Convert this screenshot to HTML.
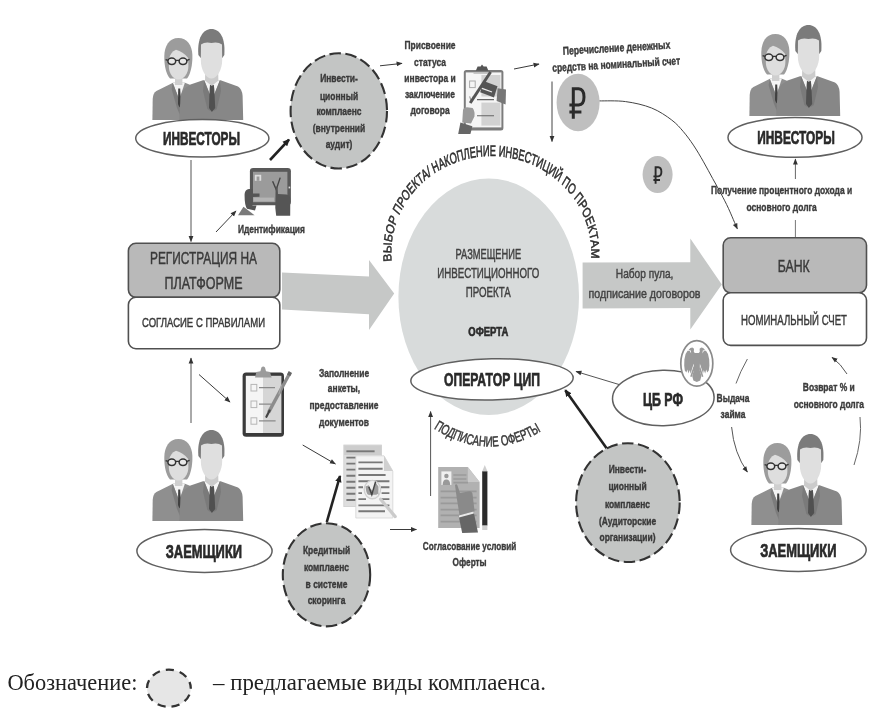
<!DOCTYPE html>
<html lang="ru">
<head>
<meta charset="utf-8">
<title>Схема</title>
<style>
html,body{margin:0;padding:0;background:#fff;}
body{width:885px;height:717px;overflow:hidden;font-family:"Liberation Sans",sans-serif;}
svg{display:block;filter:blur(0.65px);}
text{font-family:"Liberation Sans",sans-serif;}
.b{font-weight:bold;}
.serif{font-family:"Liberation Serif",serif;}
</style>
</head>
<body>
<svg width="885" height="717" viewBox="0 0 885 717">
<defs>
  <!-- people icon 92x92 -->
  <g id="people">
    <!-- woman -->
    <path d="M-0.6,92 L-0.3,71 Q0,65 3.4,63 L20,54.8 L32,54.8 L40,58 L40,92 Z" fill="#8f8f8f"/>
    <path d="M19.8,55 L31.8,55 L26.2,71.5 Z" fill="#f4f4f4"/>
    <path d="M19.8,55 L26.2,71.5 L27.4,88 L24,80 L18.6,61 Z" fill="#7c7c7c"/>
    <path d="M25.2,60.6 L27.2,60.6 L28,76 L26.4,79.5 L25,76 Z" fill="#404040"/>
    <path d="M25.4,10 C16,10 11.5,18 11.3,28 C11.2,38 13,46 17,50.6 L34,50.6 C37.6,46 39.6,37 39.4,27 C39,17 34,10 25.4,10 Z" fill="#9c9c9c"/>
    <rect x="22" y="46" width="7.4" height="11" fill="#cfcfcf"/>
    <path d="M16.2,31 Q17,24.4 23,21.8 Q30,23.5 35.2,30 L35.4,38 C35.4,45.5 31,51.4 25.6,51.4 C20,51.4 15.8,45.5 15.8,38 Z" fill="#dedede"/>
    <ellipse cx="18.8" cy="33.3" rx="3.9" ry="3.2" fill="#e8e8e8" stroke="#333" stroke-width="1.5"/>
    <ellipse cx="30" cy="33.3" rx="3.9" ry="3.2" fill="#e8e8e8" stroke="#333" stroke-width="1.5"/>
    <path d="M22.6,32.4 L26.2,32.4 M14.9,32.4 L12.6,31.6 M33.9,32.4 L36.6,31.4" stroke="#333" stroke-width="1.3" fill="none"/>
    <!-- man -->
    <path d="M26.2,92 L27.5,70 Q29,62 33,59.5 L37.5,56.5 L50,52.2 L67.6,52.2 L85,58.5 Q89,61 89.6,67.7 L90.2,92 Z" fill="#878787"/>
    <path d="M51.2,52.2 L66.9,52.2 L59.1,72 Z" fill="#f6f6f6"/>
    <path d="M51.2,52.2 L59.1,72 L57.4,83 L54.4,81 L50,63 Z" fill="#7a7a7a"/>
    <path d="M66.9,52.2 L59.1,72 L60.8,83 L63.8,81 L68,63 Z" fill="#7a7a7a"/>
    <path d="M57,57 L60.8,57 L61.3,61 L62.2,80 L58.9,84 L56,80 L56.6,61 Z" fill="#505050"/>
    <path d="M52.2,44 L65.2,44 L65.4,52.4 L58.8,58 L52,52.4 Z" fill="#cbcbcb"/>
    <path d="M45.4,27 C44,10 50,1 58.4,1 C67,1 72.6,10 71.3,27 L69.2,30 L47.8,30 Z" fill="#7b7b7b"/>
    <path d="M48,16.4 Q52,13.6 58.4,15 Q65,13.6 69,16.4 L69.2,32 C69.2,42 64,50.6 58.5,50.6 C53,50.6 47.8,42 47.8,32 Z" fill="#dfdfdf"/>
  </g>
  <marker id="ah" viewBox="0 0 10 10" refX="9" refY="5" markerWidth="6.5" markerHeight="6" orient="auto-start-reverse" markerUnits="userSpaceOnUse">
    <path d="M0,1 L10,5 L0,9 Z" fill="#333"/>
  </marker>
  <marker id="ahb" viewBox="0 0 10 10" refX="8.5" refY="5" markerWidth="7.2" markerHeight="7.2" orient="auto-start-reverse" markerUnits="userSpaceOnUse">
    <path d="M0,0.5 L10,5 L0,9.5 Z" fill="#222"/>
  </marker>
</defs>

<rect width="885" height="717" fill="#fff"/>

<!-- ===== big center ellipse ===== -->
<ellipse cx="488.7" cy="296.8" rx="90.3" ry="118.3" fill="#d8dbdb"/>

<!-- ===== big arrows ===== -->
<path d="M282,272.4 L369,276.6 L369,260 L394.2,293.6 L369,330 L369,314.2 L282,309.6 Z" fill="#c6c8c7"/>
<path d="M582.6,262.4 L690.3,262.2 L690.3,238.6 L721.8,284.5 L690.3,329.6 L690.3,308 L582.6,308.4 Z" fill="#c6c8c7"/>

<!-- ===== left boxes ===== -->
<rect x="128.4" y="243.3" width="151.4" height="54" rx="7.5" ry="7.5" fill="#b9b9b9" stroke="#505050" stroke-width="1.6"/>
<rect x="128.4" y="297.3" width="151.4" height="51.4" rx="7.5" ry="7.5" fill="#fff" stroke="#505050" stroke-width="1.6"/>
<!-- ===== right boxes ===== -->
<rect x="723.2" y="237.8" width="143.3" height="55" rx="7.5" ry="7.5" fill="#b9b9b9" stroke="#505050" stroke-width="1.6"/>
<rect x="723.2" y="292.8" width="143.3" height="52.6" rx="7.5" ry="7.5" fill="#fff" stroke="#505050" stroke-width="1.6"/>

<!-- ===== people ===== -->
<use href="#people" x="153" y="28"/>
<use href="#people" x="750" y="24"/>
<use href="#people" x="153" y="429"/>
<use href="#people" x="752" y="433"/>

<!-- ===== label ellipses ===== -->
<ellipse cx="202.3" cy="138.3" rx="66.6" ry="18.8" fill="#fff" stroke="#606060" stroke-width="1.5"/>
<ellipse cx="795" cy="137.4" rx="67" ry="19.9" fill="#fff" stroke="#606060" stroke-width="1.5"/>
<ellipse cx="204.5" cy="550.9" rx="67.6" ry="21.5" fill="#fff" stroke="#606060" stroke-width="1.5"/>
<ellipse cx="798.4" cy="550" rx="67.8" ry="21.4" fill="#fff" stroke="#606060" stroke-width="1.5"/>
<ellipse cx="492" cy="379.4" rx="81.2" ry="20.6" fill="#fff" stroke="#606060" stroke-width="1.5" transform="rotate(-1.2 492 379.4)"/>
<ellipse cx="663.3" cy="398" rx="50.8" ry="27.7" fill="#fff" stroke="#606060" stroke-width="1.5" transform="rotate(-1 663.3 398)"/>

<!-- ===== dashed circles ===== -->
<ellipse cx="338.8" cy="110.9" rx="48.2" ry="57.6" fill="#c3c5c4" stroke="#333" stroke-width="2.1" stroke-dasharray="11.5 4.5"/>
<ellipse cx="326.5" cy="574.8" rx="43.7" ry="51.6" fill="#c3c5c4" stroke="#333" stroke-width="2.1" stroke-dasharray="11.5 4.5"/>
<ellipse cx="627.9" cy="502.6" rx="51.8" ry="59.4" fill="#c3c5c4" stroke="#333" stroke-width="2.1" stroke-dasharray="11.5 4.5"/>
<ellipse cx="168.9" cy="688.2" rx="21.9" ry="18.6" fill="#e6e6e6" stroke="#333" stroke-width="2.3" stroke-dasharray="8.2 6" stroke-dashoffset="7.6"/>

<!-- ===== ruble circles ===== -->
<ellipse cx="578.1" cy="102.5" rx="21.5" ry="28.8" fill="#bfbfbf"/>
<ellipse cx="657.6" cy="174.5" rx="15" ry="18.6" fill="#bfbfbf"/>

<!-- TEXTS -->
<g id="texts" fill="#333" text-anchor="middle">
<text x="201.5" y="144.9" font-size="18" textLength="77.0" lengthAdjust="spacingAndGlyphs" fill="#2a2a2a" font-weight="bold" stroke="#2a2a2a" stroke-width="0.7">ИНВЕСТОРЫ</text>
<text x="796.0" y="144.4" font-size="18" textLength="77.5" lengthAdjust="spacingAndGlyphs" fill="#2a2a2a" font-weight="bold" stroke="#2a2a2a" stroke-width="0.7">ИНВЕСТОРЫ</text>
<text x="203.9" y="557.5" font-size="18" textLength="76.3" lengthAdjust="spacingAndGlyphs" fill="#2a2a2a" font-weight="bold" stroke="#2a2a2a" stroke-width="0.7">ЗАЕМЩИКИ</text>
<text x="798.3" y="557.1" font-size="18" textLength="76.3" lengthAdjust="spacingAndGlyphs" fill="#2a2a2a" font-weight="bold" stroke="#2a2a2a" stroke-width="0.7">ЗАЕМЩИКИ</text>
<text x="492.0" y="386.2" font-size="19" textLength="96.0" lengthAdjust="spacingAndGlyphs" fill="#2a2a2a" font-weight="bold" stroke="#2a2a2a" stroke-width="0.7">ОПЕРАТОР ЦИП</text>
<text x="663.0" y="406.1" font-size="18" textLength="40.0" lengthAdjust="spacingAndGlyphs" fill="#2a2a2a" font-weight="bold" stroke="#2a2a2a" stroke-width="0.7">ЦБ РФ</text>
<text x="203.5" y="264.4" font-size="16.5" textLength="107.0" lengthAdjust="spacingAndGlyphs" fill="#3a3a3a" stroke="#3a3a3a" stroke-width="0.45">РЕГИСТРАЦИЯ НА</text>
<text x="203.5" y="288.9" font-size="16.5" textLength="78.0" lengthAdjust="spacingAndGlyphs" fill="#3a3a3a" stroke="#3a3a3a" stroke-width="0.45">ПЛАТФОРМЕ</text>
<text x="203.5" y="327.2" font-size="13" textLength="123.0" lengthAdjust="spacingAndGlyphs" fill="#3a3a3a" stroke="#3a3a3a" stroke-width="0.45">СОГЛАСИЕ С ПРАВИЛАМИ</text>
<text x="793.7" y="272.4" font-size="16.5" textLength="32.0" lengthAdjust="spacingAndGlyphs" fill="#3a3a3a" stroke="#3a3a3a" stroke-width="0.45">БАНК</text>
<text x="794.0" y="325.2" font-size="14.4" textLength="106.0" lengthAdjust="spacingAndGlyphs" fill="#3a3a3a" stroke="#3a3a3a" stroke-width="0.45">НОМИНАЛЬНЫЙ СЧЕТ</text>
<text x="488.3" y="258.9" font-size="14.5" textLength="65.6" lengthAdjust="spacingAndGlyphs" fill="#404040" stroke="#404040" stroke-width="0.45">РАЗМЕЩЕНИЕ</text>
<text x="488.3" y="278.2" font-size="14.5" textLength="102.0" lengthAdjust="spacingAndGlyphs" fill="#404040" stroke="#404040" stroke-width="0.45">ИНВЕСТИЦИОННОГО</text>
<text x="488.3" y="297.0" font-size="14.5" textLength="45.0" lengthAdjust="spacingAndGlyphs" fill="#404040" stroke="#404040" stroke-width="0.45">ПРОЕКТА</text>
<text x="488.3" y="335.8" font-size="12" textLength="40.0" lengthAdjust="spacingAndGlyphs" fill="#2c2c2c" font-weight="bold" stroke="#2c2c2c" stroke-width="0.6">ОФЕРТА</text>
<text x="644.6" y="277.9" font-size="12.4" textLength="57.5" lengthAdjust="spacingAndGlyphs" fill="#444" stroke="#444" stroke-width="0.45">Набор пула,</text>
<text x="644.5" y="298.3" font-size="12.4" textLength="112.0" lengthAdjust="spacingAndGlyphs" fill="#444" stroke="#444" stroke-width="0.45">подписание договоров</text>
<text x="339.0" y="81.5" font-size="11.3" textLength="37.7" lengthAdjust="spacingAndGlyphs" fill="#3a3a3a" font-weight="bold" stroke="#3a3a3a" stroke-width="0.4">Инвести-</text>
<text x="339.0" y="99.5" font-size="11.3" textLength="38.2" lengthAdjust="spacingAndGlyphs" fill="#3a3a3a" font-weight="bold" stroke="#3a3a3a" stroke-width="0.4">ционный</text>
<text x="339.0" y="114.7" font-size="11.3" textLength="45.1" lengthAdjust="spacingAndGlyphs" fill="#3a3a3a" font-weight="bold" stroke="#3a3a3a" stroke-width="0.4">комплаенс</text>
<text x="339.0" y="131.9" font-size="11.3" textLength="52.5" lengthAdjust="spacingAndGlyphs" fill="#3a3a3a" font-weight="bold" stroke="#3a3a3a" stroke-width="0.4">(внутренний</text>
<text x="339.0" y="147.7" font-size="11.3" textLength="26.7" lengthAdjust="spacingAndGlyphs" fill="#3a3a3a" font-weight="bold" stroke="#3a3a3a" stroke-width="0.4">аудит)</text>
<text x="326.5" y="554.0" font-size="11.3" textLength="47.2" lengthAdjust="spacingAndGlyphs" fill="#3a3a3a" font-weight="bold" stroke="#3a3a3a" stroke-width="0.4">Кредитный</text>
<text x="326.5" y="570.5" font-size="11.3" textLength="45.1" lengthAdjust="spacingAndGlyphs" fill="#3a3a3a" font-weight="bold" stroke="#3a3a3a" stroke-width="0.4">комплаенс</text>
<text x="326.5" y="587.9" font-size="11.3" textLength="41.8" lengthAdjust="spacingAndGlyphs" fill="#3a3a3a" font-weight="bold" stroke="#3a3a3a" stroke-width="0.4">в системе</text>
<text x="326.5" y="604.0" font-size="11.3" textLength="37.7" lengthAdjust="spacingAndGlyphs" fill="#3a3a3a" font-weight="bold" stroke="#3a3a3a" stroke-width="0.4">скоринга</text>
<text x="627.5" y="473.3" font-size="11.3" textLength="37.7" lengthAdjust="spacingAndGlyphs" fill="#3a3a3a" font-weight="bold" stroke="#3a3a3a" stroke-width="0.4">Инвести-</text>
<text x="627.5" y="490.1" font-size="11.3" textLength="38.2" lengthAdjust="spacingAndGlyphs" fill="#3a3a3a" font-weight="bold" stroke="#3a3a3a" stroke-width="0.4">ционный</text>
<text x="627.5" y="507.5" font-size="11.3" textLength="45.1" lengthAdjust="spacingAndGlyphs" fill="#3a3a3a" font-weight="bold" stroke="#3a3a3a" stroke-width="0.4">комплаенс</text>
<text x="627.5" y="524.7" font-size="11.3" textLength="57.2" lengthAdjust="spacingAndGlyphs" fill="#3a3a3a" font-weight="bold" stroke="#3a3a3a" stroke-width="0.4">(Аудиторские</text>
<text x="627.5" y="541.4" font-size="11.3" textLength="56.0" lengthAdjust="spacingAndGlyphs" fill="#3a3a3a" font-weight="bold" stroke="#3a3a3a" stroke-width="0.4">организации)</text>
<text x="430.0" y="49.2" font-size="11.3" textLength="51.1" lengthAdjust="spacingAndGlyphs" fill="#3c3c3c" font-weight="bold" stroke="#3c3c3c" stroke-width="0.4">Присвоение</text>
<text x="430.0" y="65.5" font-size="11.3" textLength="31.9" lengthAdjust="spacingAndGlyphs" fill="#3c3c3c" font-weight="bold" stroke="#3c3c3c" stroke-width="0.4">статуса</text>
<text x="430.0" y="81.7" font-size="11.3" textLength="51.3" lengthAdjust="spacingAndGlyphs" fill="#3c3c3c" font-weight="bold" stroke="#3c3c3c" stroke-width="0.4">инвестора и</text>
<text x="430.0" y="98.3" font-size="11.3" textLength="50.0" lengthAdjust="spacingAndGlyphs" fill="#3c3c3c" font-weight="bold" stroke="#3c3c3c" stroke-width="0.4">заключение</text>
<text x="430.0" y="114.3" font-size="11.3" textLength="39.2" lengthAdjust="spacingAndGlyphs" fill="#3c3c3c" font-weight="bold" stroke="#3c3c3c" stroke-width="0.4">договора</text>
<text x="271.4" y="233.4" font-size="11.3" textLength="67.0" lengthAdjust="spacingAndGlyphs" fill="#3c3c3c" font-weight="bold" stroke="#3c3c3c" stroke-width="0.4">Идентификация</text>
<text x="344.0" y="376.5" font-size="11.3" textLength="50.2" lengthAdjust="spacingAndGlyphs" fill="#3c3c3c" font-weight="bold" stroke="#3c3c3c" stroke-width="0.4">Заполнение</text>
<text x="344.0" y="392.4" font-size="11.3" textLength="32.3" lengthAdjust="spacingAndGlyphs" fill="#3c3c3c" font-weight="bold" stroke="#3c3c3c" stroke-width="0.4">анкеты,</text>
<text x="344.0" y="408.6" font-size="11.3" textLength="69.0" lengthAdjust="spacingAndGlyphs" fill="#3c3c3c" font-weight="bold" stroke="#3c3c3c" stroke-width="0.4">предоставление</text>
<text x="344.0" y="425.8" font-size="11.3" textLength="49.8" lengthAdjust="spacingAndGlyphs" fill="#3c3c3c" font-weight="bold" stroke="#3c3c3c" stroke-width="0.4">документов</text>
<text x="469.6" y="550.0" font-size="11.3" textLength="93.5" lengthAdjust="spacingAndGlyphs" fill="#3c3c3c" font-weight="bold" stroke="#3c3c3c" stroke-width="0.4">Согласование условий</text>
<text x="469.6" y="566.0" font-size="11.3" textLength="34.0" lengthAdjust="spacingAndGlyphs" fill="#3c3c3c" font-weight="bold" stroke="#3c3c3c" stroke-width="0.4">Оферты</text>
<text x="781.6" y="193.7" font-size="11.3" textLength="141.2" lengthAdjust="spacingAndGlyphs" fill="#3c3c3c" font-weight="bold" stroke="#3c3c3c" stroke-width="0.4">Получение процентного дохода и</text>
<text x="781.6" y="210.9" font-size="11.3" textLength="70.3" lengthAdjust="spacingAndGlyphs" fill="#3c3c3c" font-weight="bold" stroke="#3c3c3c" stroke-width="0.4">основного долга</text>
<text x="733.0" y="401.6" font-size="11.3" textLength="32.8" lengthAdjust="spacingAndGlyphs" fill="#3c3c3c" font-weight="bold" stroke="#3c3c3c" stroke-width="0.4">Выдача</text>
<text x="733.0" y="417.8" font-size="11.3" textLength="24.8" lengthAdjust="spacingAndGlyphs" fill="#3c3c3c" font-weight="bold" stroke="#3c3c3c" stroke-width="0.4">займа</text>
<text x="828.8" y="390.9" font-size="11.3" textLength="52.0" lengthAdjust="spacingAndGlyphs" fill="#3c3c3c" font-weight="bold" stroke="#3c3c3c" stroke-width="0.4">Возврат % и</text>
<text x="828.8" y="407.5" font-size="11.3" textLength="70.3" lengthAdjust="spacingAndGlyphs" fill="#3c3c3c" font-weight="bold" stroke="#3c3c3c" stroke-width="0.4">основного долга</text>
<text x="616.6" y="51.7" font-size="11.3" textLength="107.5" lengthAdjust="spacingAndGlyphs" fill="#3a3a3a" font-weight="bold" stroke="#3a3a3a" stroke-width="0.4" transform="rotate(-3.3 616.6 48.6)">Перечисление денежных</text>
<text x="616.2" y="68.1" font-size="11.3" textLength="128.0" lengthAdjust="spacingAndGlyphs" fill="#3a3a3a" font-weight="bold" stroke="#3a3a3a" stroke-width="0.4" transform="rotate(-3.3 616.2 65.0)">средств на номинальный счет</text>
</g>
<text class="serif" x="7.4" y="689.8" font-size="24" textLength="130" lengthAdjust="spacingAndGlyphs" fill="#222" text-anchor="start">Обозначение:</text>
<text class="serif" x="213" y="689.8" font-size="24" textLength="333" lengthAdjust="spacingAndGlyphs" fill="#222" text-anchor="start">– предлагаемые виды комплаенса.</text>

<!-- ARROWS -->
<g id="arrows" stroke="#333" fill="none" stroke-width="1">
<path d="M191.0,160.0 L191.0,241.5" stroke="#555" stroke-width="1" marker-end="url(#ah)"/>
<path d="M216.0,232.0 L236.0,211.0" stroke="#3a3a3a" stroke-width="1" marker-end="url(#ah)"/>
<path d="M270.0,160.0 L289.0,139.6" stroke="#222" stroke-width="2.6" marker-end="url(#ahb)"/>
<path d="M380.0,65.8 L402.0,63.4" stroke="#3a3a3a" stroke-width="1" marker-end="url(#ah)"/>
<path d="M514.0,69.0 L539.0,64.0" stroke="#3a3a3a" stroke-width="1" marker-end="url(#ah)"/>
<path d="M552.0,81.5 L552.0,141.5" stroke="#444" stroke-width="1" marker-end="url(#ah)"/>
<path d="M599.5,100.9 C603.9,101.0 616.9,100.4 625.6,101.6 C634.3,102.8 643.9,104.9 651.6,108.0 C659.3,111.1 666.4,116.0 671.7,120.0 C677.0,124.0 679.8,127.5 683.4,131.7 C687.0,135.9 690.0,140.1 693.4,145.1 C696.8,150.1 700.3,156.2 703.5,161.8 C706.7,167.4 709.8,173.3 712.7,178.6 C715.6,183.9 718.4,188.6 721.0,193.6 C723.6,198.6 725.9,202.8 728.6,208.7 C731.3,214.6 735.8,225.5 737.3,228.8" stroke="#444" stroke-width="1" marker-end="url(#ah)"/>
<path d="M795.4,237.0 L795.4,220.0" stroke="#777" stroke-width="1"/>
<path d="M795.4,179.0 L795.4,159.0" stroke="#666" stroke-width="1" marker-end="url(#ah)"/>
<path d="M191.0,423.0 L191.0,358.0" stroke="#555" stroke-width="1" marker-end="url(#ah)"/>
<path d="M199.0,374.5 L230.0,402.0" stroke="#3a3a3a" stroke-width="1" marker-end="url(#ah)"/>
<path d="M302.7,445.0 L335.4,464.0" stroke="#3a3a3a" stroke-width="1" marker-end="url(#ah)"/>
<path d="M326.8,522.0 L340.0,476.0" stroke="#222" stroke-width="2.6" marker-end="url(#ahb)"/>
<path d="M390.0,529.5 L416.4,529.5" stroke="#3a3a3a" stroke-width="1" marker-end="url(#ah)"/>
<path d="M430.6,496.0 L430.6,411.5" stroke="#555" stroke-width="1" marker-end="url(#ah)"/>
<path d="M606.6,448.2 L565.3,390.2" stroke="#222" stroke-width="2.6" marker-end="url(#ahb)"/>
<path d="M619.0,384.5 L576.0,371.5" stroke="#555" stroke-width="1" marker-end="url(#ah)"/>
<path d="M747.4,359 Q740,372 736,383.5" stroke="#666" stroke-width="1"/>
<path d="M731.6,427 Q734,453 747.4,472" stroke="#555" stroke-width="1" marker-end="url(#ah)"/>
<path d="M854,465 Q862.5,440 860,417" stroke="#666" stroke-width="1"/>
<path d="M847,374 Q841,364 832,357.4" stroke="#555" stroke-width="1" marker-end="url(#ah)"/>
</g>
<g transform="translate(491.3,253.1) scale(0.76,1)"><path id="arcTop" d="M-131.08,8.45 L-131.41,4.92 L-131.57,1.37 L-131.55,-2.17 L-131.35,-5.72 L-130.98,-9.25 L-130.43,-12.77 L-129.71,-16.28 L-128.82,-19.76 L-127.75,-23.22 L-126.52,-26.65 L-125.11,-30.04 L-123.54,-33.39 L-121.80,-36.69 L-119.90,-39.95 L-117.84,-43.15 L-115.62,-46.30 L-113.25,-49.39 L-110.73,-52.40 L-108.05,-55.35 L-105.24,-58.23 L-102.28,-61.02 L-99.19,-63.74 L-95.96,-66.37 L-92.61,-68.91 L-89.13,-71.36 L-85.53,-73.71 L-81.82,-75.97 L-78.00,-78.12 L-74.07,-80.17 L-70.05,-82.11 L-65.93,-83.94 L-61.73,-85.66 L-57.44,-87.27 L-53.07,-88.76 L-48.64,-90.13 L-44.14,-91.38 L-39.58,-92.51 L-34.97,-93.51 L-30.31,-94.39 L-25.61,-95.15 L-20.87,-95.77 L-16.11,-96.27 L-11.33,-96.64 L-6.53,-96.88 L-1.72,-96.99 L3.09,-96.97 L7.89,-96.83 L12.69,-96.55 L17.47,-96.14 L22.22,-95.61 L26.94,-94.94 L31.63,-94.15 L36.28,-93.24 L40.88,-92.20 L45.42,-91.04 L49.90,-89.75 L54.32,-88.35 L58.66,-86.83 L62.93,-85.19 L67.11,-83.43 L71.20,-81.57 L75.20,-79.60 L79.09,-77.52 L82.88,-75.34 L86.56,-73.05 L90.13,-70.67 L93.57,-68.20 L96.89,-65.63 L100.08,-62.98 L103.13,-60.24 L106.05,-57.42 L108.83,-54.52 L111.46,-51.55 L113.94,-48.52 L116.27,-45.41 L118.44,-42.25 L120.46,-39.03 L122.31,-35.76 L124.00,-32.44 L125.53,-29.08 L126.89,-25.68 L128.07,-22.24 L129.09,-18.78 L129.93,-15.29 L130.61,-11.77 L131.10,-8.25 L131.42,-4.71 L131.57,-1.17 L131.54,2.38 L131.33,5.92" fill="none"/><text font-size="15.3" fill="#2e2e2e" stroke="#2e2e2e" stroke-width="0.6" text-anchor="start"><textPath href="#arcTop" textLength="375" lengthAdjust="spacingAndGlyphs">ВЫБОР ПРОЕКТА/ НАКОПЛЕНИЕ ИНВЕСТИЦИЙ ПО ПРОЕКТАМ</textPath></text></g>
<path id="arcBot" d="M433.6,428.5 Q488,463 540.6,431.5" fill="none"/><text font-size="14.3" fill="#383838" stroke="#383838" stroke-width="0.5" text-anchor="start"><textPath href="#arcBot" textLength="114" lengthAdjust="spacingAndGlyphs">ПОДПИСАНИЕ ОФЕРТЫ</textPath></text>

<!-- ICONS -->
<g id="icons">
<!-- tablet / identification -->
<g id="tablet">
  <path d="M238,215.3 L254.6,215.3 L243.5,206.8 Z" fill="#7a7a7a"/>
  <rect x="249.9" y="168" width="41" height="37.2" rx="3.2" fill="#595959"/>
  <rect x="253" y="171.8" width="34.4" height="30.4" fill="#9b9b9b"/>
  <rect x="253.6" y="197.6" width="20.5" height="3.8" fill="#b4b4b4"/>
  <rect x="254.8" y="174.8" width="6.4" height="6" fill="#dedede"/>
  <rect x="256.6" y="176.5" width="2.8" height="4.3" fill="#9b9b9b"/>
  <path d="M272.6,181.2 L276.2,189.6 L280.2,177.6" fill="none" stroke="#444" stroke-width="1.4"/>
  <path d="M244.6,194 Q245,189.5 249,189 L252.5,189 L252.5,193.5 L259.5,193.5 L259.5,196.8 L252.5,197 L252.5,205.5 L256.5,205.5 L255,210.5 L247,208.8 Q244.4,205 244.6,194 Z" fill="#555"/>
  <path d="M275.6,186.8 L277.6,186.8 L278,194 L286.5,194.5 Q290.3,195 290.3,199 L290.2,215.8 L276.2,215.8 L275.3,208 Z" fill="#555"/>
  <rect x="288.6" y="186.6" width="1.6" height="1.8" fill="#ddd"/>
</g>
<!-- clipboard with hands (status / contract) -->
<g id="clip1">
  <rect x="463.8" y="70" width="39.6" height="60.4" rx="2.5" fill="#7c7c7c"/>
  <rect x="465.8" y="72.4" width="35.6" height="55" fill="#f5f5f5"/>
  <rect x="481.4" y="75" width="19" height="21.5" fill="#d2d2d2"/>
  <rect x="481.4" y="102.6" width="19" height="23" fill="#d2d2d2"/>
  <path d="M475.8,70.8 L477.6,66.6 L480.6,66.4 L482,64.6 L483.6,66.4 L486.6,66.6 L488.4,70.8 Z" fill="#555"/>
  <rect x="473.5" y="72.2" width="17" height="1.6" fill="#bbb"/>
  <rect x="469.6" y="81" width="5.6" height="6.6" fill="none" stroke="#aaa" stroke-width="1"/>
  <path d="M469.6,96.4 L471.4,101.6 L473.3,96.4" fill="none" stroke="#999" stroke-width="1.1"/>
  <path d="M477,99.6 L494,99.6 M477,115.7 L494,115.7" stroke="#666" stroke-width="1.1"/>
  <path d="M490.6,72 L470.2,103" stroke="#555" stroke-width="3"/>
  <path d="M483.6,81 L497.5,86.2 L494,97.4 L480.2,92.2 Z" fill="#555"/>
  <path d="M482,88.4 L492,92" stroke="#eee" stroke-width="1.2"/>
  <path d="M497.6,88.2 L506,89.6 L505.6,104.4 L496.6,101 Z" fill="#777"/>
  <path d="M463,110 Q463.8,107.2 467,107.2 L472.6,108 Q475.2,111.6 474.4,116.4 L471,123.6 L462.2,122.6 Z" fill="#9a9a9a"/>
  <path d="M460.4,122.4 L472.4,126.2 L470.4,134 L458.2,134 Z" fill="#666"/>
</g>
<!-- clipboard with pen (form) -->
<g id="clip2">
  <rect x="242.6" y="372.6" width="41.4" height="64.2" rx="3.6" fill="#3a3a3a"/>
  <rect x="245.8" y="375.8" width="17.2" height="57.2" fill="#f5f5f5"/>
  <rect x="263" y="375.8" width="18.4" height="57.2" fill="#d6d6d6"/>
  <path d="M255,377.6 L256.4,372 L260.4,371.2 L261.4,367.6 Q263.2,365.2 265,367.6 L266,371.2 L270,372 L271.6,377.6 Z" fill="#9b9b9b"/>
  <g fill="none" stroke="#b5b5b5" stroke-width="1">
    <rect x="251" y="384.4" width="5.8" height="6.6"/>
    <rect x="251" y="401" width="5.8" height="6.6"/>
    <rect x="251" y="417.8" width="5.8" height="6.4"/>
  </g>
  <path d="M259,387.6 L275,387.6 M259,404.2 L271.5,404.2 M259,420.8 L275.6,420.8" stroke="#8a8a8a" stroke-width="1.3"/>
  <path d="M289.2,374.2 L268.6,412.4" stroke="#8c8c8c" stroke-width="3.4"/>
  <path d="M290.4,372 L288.6,375.4" stroke="#666" stroke-width="3.8"/>
  <path d="M269.6,410.6 L266.4,416.8" stroke="#444" stroke-width="2.2" stroke-linecap="round"/>
  <path d="M281.6,384.6 L278.8,394.5" stroke="#a8a8a8" stroke-width="1.2"/>
</g>
<!-- documents with magnifier -->
<g id="docs">
  <rect x="343.8" y="445" width="37.8" height="61.6" fill="#dedede" stroke="#cfcfcf" stroke-width="0.8"/>
  <rect x="344.2" y="445.4" width="37" height="9.6" fill="#cdcdcd"/>
  <g stroke="#787878" stroke-width="1.9">
    <path d="M346.4,451.3 L374.6,451.3"/>
    <path d="M346.4,457.6 L356,457.6 M346.4,463.6 L356,463.6 M346.4,469.6 L356,469.6 M346.4,475.8 L356,475.8 M346.4,481.8 L356,481.8 M346.4,487.8 L356,487.8 M346.4,493.8 L356,493.8 M346.4,500 L356,500"/>
  </g>
  <path d="M355.8,455.8 L384,455.8 L392.8,471 L392.8,518 L355.8,518 Z" fill="#f3f3f3" stroke="#d4d4d4" stroke-width="0.8"/>
  <path d="M384,455.8 L384,471 L392.8,471 Z" fill="#d0d0d0"/>
  <g stroke="#787878" stroke-width="1.9">
    <path d="M358.4,462.4 L382.6,462.4 M358.4,468.7 L382.6,468.7 M358.4,475 L385.6,475 M358.4,481.2 L389.4,481.2"/>
    <path d="M358.4,487.2 L363,487.2 M381,487.2 L389.4,487.2 M358.4,493.1 L362,493.1 M381.6,493.1 L389.4,493.1 M358.4,499.1 L366,499.1 M380,499.1 L389.4,499.1"/>
    <path d="M358.4,505.4 L389.4,505.4 M358.4,511.2 L385,511.2"/>
  </g>
  <g transform="translate(0.2,0.2)">
  <path d="M380.4,499 L395,516.4" stroke="#cbcbcb" stroke-width="3.2" stroke-linecap="round"/>
  <ellipse cx="372.2" cy="489.4" rx="8.2" ry="9.2" fill="#efefef" stroke="#d0d0d0" stroke-width="1.4"/>
  <path d="M366.4,486 L369,494.6 L372.4,494.6 L375.2,481.6 L377.6,486 L378.4,494.6" fill="#9a9a9a" stroke="none"/>
  <path d="M365.4,486.4 Q366,494 368,494.6 L376.4,494.6 Q378.6,492 378.2,486.4 L376,484 L372,494 L368.6,485 Z" fill="#9c9c9c"/>
  <path d="M368.6,486.6 L371.6,494.4 L375.4,481.4" fill="none" stroke="#444" stroke-width="1.5"/>
  </g>
</g>
<!-- contract / offer -->
<g id="contract">
  <path d="M438.2,467 L467.8,467 L479.6,482 L479.6,528 L438.2,528 Z" fill="#b1b1b1"/>
  <path d="M467.8,467 L467.8,482 L479.6,482 Z" fill="#c9c9c9"/>
  <rect x="441.4" y="471.4" width="10" height="13.6" fill="#f0f0f0"/>
  <circle cx="446.4" cy="476" r="2.2" fill="#999"/>
  <path d="M442.6,485 Q442.8,479.6 446.4,479.6 Q450,479.6 450.2,485 Z" fill="#999"/>
  <g stroke="#9a9a9a" stroke-width="1.6">
    <path d="M453.4,475 L466.4,475 M453.4,479 L466.4,479 M453.4,482.6 L468,482.6"/>
    <path d="M440.6,491.4 L476.6,491.4 M440.6,497.6 L476.6,497.6 M440.6,503.4 L476.6,503.4 M440.6,509.6 L476.6,509.6 M440.6,515.4 L476.6,515.4 M440.6,521.6 L476.6,521.6"/>
  </g>
  <path d="M455,485 Q456.2,483.6 457.4,485.2 L460,493 L469.6,491.2 Q472.4,491.4 472.6,494.4 L474.6,511.6 L459.6,515.6 L456.6,497 Z" fill="#8a8a8a"/>
  <path d="M458.6,515.4 L473.6,511.4 L478,532.4 L462.2,533 Z" fill="#666"/>
  <path d="M458.7,515.5 L473.5,511.5 L473.9,513.4 L459.1,517.4 Z" fill="#e8e8e8"/>
  <rect x="482.2" y="471.2" width="5.2" height="54.4" fill="#2b2b2b"/>
  <path d="M482.2,471.2 L484.8,465 L487.4,471.2 Z" fill="#cfcfcf"/>
  <rect x="482.2" y="525.6" width="5.2" height="4.4" fill="#cfcfcf"/>
</g>
<!-- CB emblem -->
<g id="emblem">
  <ellipse cx="696.8" cy="363.4" rx="16" ry="22.8" fill="#fff" stroke="#8a8a8a" stroke-width="1.7"/>
  <g fill="#9a9a9a">
    <path d="M695.6,354 L693.8,351.8 L694,348.8 L692.4,347.4 L690.4,348 L688.6,350 L690.8,350.6 L691.2,353.6 L689.6,350.8 L687.6,350.8 L685.6,354 L684.4,359.4 L684.2,365.4 L684.8,370.6 L686.4,372.4 L687.4,369.4 L688.4,373.6 L689.8,370 L690.6,373.8 L692,369 L693.4,364.4 L695.4,362 Z"/>
    <path d="M698,354 L699.8,351.8 L699.6,348.8 L701.2,347.4 L703.2,348 L705,350 L702.8,350.6 L702.4,353.6 L704,350.8 L706,350.8 L708,354 L709.2,359.4 L709.4,365.4 L708.8,370.6 L707.2,372.4 L706.2,369.4 L705.2,373.6 L703.8,370 L703,373.8 L701.6,369 L700.2,364.4 L698.2,362 Z"/>
    <path d="M694.6,353 L699,353 L700,362 L699.6,370 L701.4,376 L700.2,380.4 L696.8,382 L693.4,380.4 L692.2,376 L694,370 L693.6,362 Z"/>
    <path d="M693.6,366 L690.2,376.4 L691.6,377 L694.6,369 Z M700,366 L703.4,376.4 L702,377 L699,369 Z"/>
  </g>
</g>
<!-- rubles -->
<g id="rubles" fill="none" stroke="#2a2a2a">
  <path d="M573.3,118.8 L573.3,88.8 L578.6,88.8 Q584,89.2 584,96.9 Q584,104.6 578.6,105 L569.4,105 M569.4,112 L581.4,112" stroke-width="3"/>
  <path d="M655.6,183.8 L655.6,167.2 L658.2,167.2 Q661.4,167.4 661.4,171.8 Q661.4,176.2 658.2,176.4 L653.4,176.4 M653.4,180 L660,180" stroke-width="1.9"/>
</g>
</g>
</svg>
</body>
</html>
